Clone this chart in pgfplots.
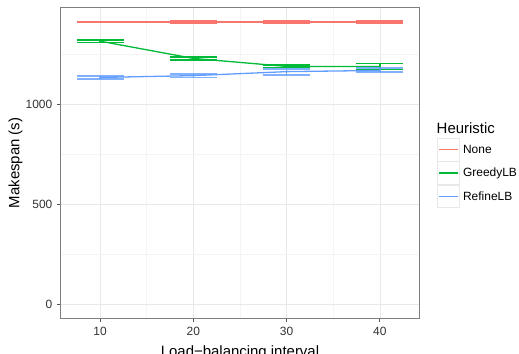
\documentclass[border=0pt]{standalone}
\usepackage{fontspec}
\setmainfont{Liberation Sans}
\usepackage{pgfplots}
\pgfplotsset{compat=1.18}
\definecolor{cNone}{HTML}{F8766D}
\definecolor{cGreedy}{HTML}{00BA38}
\definecolor{cRefine}{HTML}{619CFF}
\definecolor{gridmaj}{HTML}{E8E8E8}
\definecolor{gridmin}{HTML}{F4F4F4}
\definecolor{bordergray}{HTML}{7F7F7F}
\definecolor{tickgray}{HTML}{555555}
\begin{document}
\begin{tikzpicture}
\begin{axis}[
  at={(0,0)}, anchor=south west,
  scale only axis, width=359bp, height=311.7bp,
  xmin=5.75, xmax=44.25, ymin=-70.75, ymax=1485.75,
  axis line style={draw=bordergray, line width=0.9bp},
  xtick={10,20,30,40}, ytick={0,500,1000},
  minor xtick={15,25,35}, minor ytick={250,750,1250},
  grid=both,
  major grid style={draw=gridmaj, line width=0.7bp},
  minor grid style={draw=gridmin, line width=0.7bp},
  tick align=outside, tick pos=left,
  xtick style={draw=tickgray, line width=1bp},
  ytick style={draw=tickgray, line width=1bp},
  major tick length=3.5bp, minor tick length=0pt,
  /pgf/number format/assume math mode=true,
  /pgf/number format/set thousands separator={},
  ticklabel style={font=\fontsize{12}{14}\selectfont, text=black!80, inner sep=0pt},
  xticklabel style={anchor=north, yshift=-5bp},
  yticklabel style={anchor=east, xshift=-4.5bp},
  every axis y label/.style={at={(axis description cs:-0.1253,0.5)}, rotate=90, anchor=center, font=\fontsize{15}{18}\selectfont, inner sep=0pt},
  every axis x label/.style={at={(axis description cs:0.5,-0.1226)}, anchor=base, font=\fontsize{15}{18}\selectfont, inner sep=0pt},
  xlabel={Load−balancing interval},
  ylabel={Makespan (s)},
  legend style={at={(axis description cs:1.0474,0.5804)}, anchor=north west,
    draw=none, fill=none, inner sep=0pt, row sep=0pt, column sep=3bp,
    font=\fontsize{12}{14}\selectfont, nodes={inner sep=0pt}},
  legend cell align=left,
]
\addlegendimage{legend image code/.code={
    \draw[draw=gridmaj, fill=white, line width=0.8bp] (0bp,-11.3bp) rectangle (22.6bp,11.3bp);
    \draw[draw=cNone, line width=1.5bp] (2bp,0bp) -- (20.6bp,0bp);}}
\addlegendentry{None}
\addlegendimage{legend image code/.code={
    \draw[draw=gridmaj, fill=white, line width=0.8bp] (0bp,-11.3bp) rectangle (22.6bp,11.3bp);
    \draw[draw=cGreedy, line width=1.5bp] (2bp,0bp) -- (20.6bp,0bp);}}
\addlegendentry{GreedyLB}
\addlegendimage{legend image code/.code={
    \draw[draw=gridmaj, fill=white, line width=0.8bp] (0bp,-11.3bp) rectangle (22.6bp,11.3bp);
    \draw[draw=cRefine, line width=1.5bp] (2bp,0bp) -- (20.6bp,0bp);}}
\addlegendentry{RefineLB}
\addplot[forget plot, draw=cNone, line width=1.3bp,
  error bars/.cd, y dir=both, y explicit,
  error bar style={draw=cNone, line width=1.6bp},
  error mark options={rotate=90, draw=cNone, mark size=23.4bp, line width=1.6bp}]
  coordinates {
  (10,1411) += (0,2) -= (0,2)
  (20,1411) += (0,4) -= (0,4)
  (30,1411) += (0,4) -= (0,4)
  (40,1411) += (0,4) -= (0,4)
  };
\addplot[forget plot, draw=cGreedy, line width=1.3bp,
  error bars/.cd, y dir=both, y explicit,
  error bar style={draw=cGreedy, line width=1.6bp},
  error mark options={rotate=90, draw=cGreedy, mark size=23.4bp, line width=1.6bp}]
  coordinates {
  (10,1315) += (0,7) -= (0,7)
  (20,1229) += (0,8) -= (0,7)
  (30,1189) += (0,7) -= (0,6)
  (40,1188) += (0,16) -= (0,14)
  };
\addplot[forget plot, draw=cRefine, line width=1.3bp,
  error bars/.cd, y dir=both, y explicit,
  error bar style={draw=cRefine, line width=1.6bp, draw opacity=0.8},
  error mark options={rotate=90, draw=cRefine, mark size=23.4bp, line width=1.6bp, draw opacity=0.8}]
  coordinates {
  (10,1134) += (0,7) -= (0,8)
  (20,1143) += (0,8) -= (0,9)
  (30,1163) += (0,14) -= (0,17)
  (40,1169) += (0,13) -= (0,8)
  };
\coordinate (T) at (axis description cs:1.0474,0.5942);
\end{axis}
\node[anchor=base west, inner sep=0pt, font=\fontsize{15}{18}\selectfont] at (T) {Heuristic};
\pgfresetboundingbox
\path[use as bounding box] (-60.5bp,-35.3bp) rectangle (458.5bp,318.7bp);
\end{tikzpicture}
\end{document}
